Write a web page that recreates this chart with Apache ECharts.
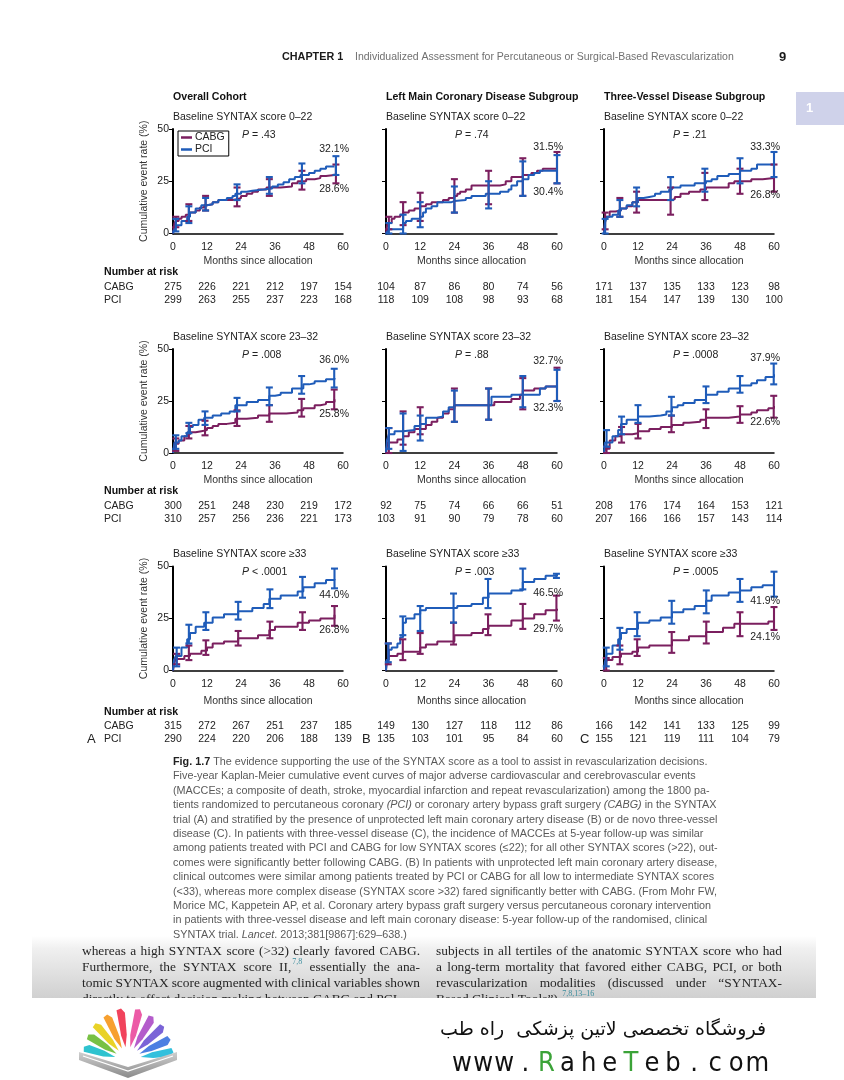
<!DOCTYPE html>
<html><head><meta charset="utf-8">
<script src="https://cdn.jsdelivr.net/npm/echarts@6/dist/echarts.min.js"></script>
<style>html,body{margin:0;padding:0;background:#fff;}#c{width:844px;height:1080px;}</style>
</head><body><div id="c"></div>
<script>
// ---------------- DATA ----------------
const months = [0, 12, 24, 36, 48, 60];
const yTicks = [0, 25, 50];
const columnTitles = ['Overall Cohort', 'Left Main Coronary Disease Subgroup', 'Three-Vessel Disease Subgroup'];
const rowSubtitles = ['Baseline SYNTAX score 0–22', 'Baseline SYNTAX score 23–32', 'Baseline SYNTAX score ≥33'];
const seriesNames = ['CABG', 'PCI'];
const pValueText = ['= .43', '= .74', '= .21', '= .008', '= .88', '= .0008', '< .0001', '= .003', '= .0005'];
const topLabels = ['32.1%', '31.5%', '33.3%', '36.0%', '32.7%', '37.9%', '44.0%', '46.5%', '41.9%'];
const bottomLabels = ['28.6%', '30.4%', '26.8%', '25.8%', '32.3%', '22.6%', '26.8%', '29.7%', '24.1%'];
const panelLetters = ['A', 'B', 'C'];

// Kaplan-Meier curves [month, cumulative event rate %]
const cabgA1 = [[0,0],[0.5,5],[1,6],[2,7],[3,8],[4.5,9],[6,10],[8,11],[9.5,12.5],[11,13.5],[12,14],[14,15],[16,16],[21,16.5],[23,17],[24,18],[26,19],[28,20],[30,21],[33,22],[38,22.5],[42,24],[44,25],[47,26],[50,26.5],[52,27.5],[54,28],[57,28.6]];
const pciA1 = [[0,0],[0.5,2],[1,4],[3,6],[5,8],[6,10],[8,12],[10,13.5],[12,14],[14,15],[16,16],[19,17],[21,18],[22,19],[24,20],[26,20.5],[28,21],[32,21.5],[35,22.5],[37,23.5],[39,24.5],[41,26],[43,27],[45,28],[48,29],[50,30],[52,31],[54,32],[57,32.1]];
const cabgErrA1 = [[1,3,8],[5.6,6,14],[11.5,11,18],[22.6,13,22],[34,18,26],[45.5,21,30],[57.5,24,33]];
const pciErrA1 = [[1,1,7],[5.6,5,13],[11.5,11,17],[22.6,16,23.5],[34,19,27],[45.5,24,33.5],[57.5,28,37]];

const cabgB1 = [[0,0],[0.5,5],[2,7],[3,8],[5,9],[6,10],[8,11],[10,12],[12,13],[14,14],[16,15],[20,16],[22,17],[24,18],[25,19],[26,20],[28,21],[30,23],[40,23.5],[42,25],[44,27],[48,28],[51,29],[53,30],[55,31],[60,31.5]];
const pciB1 = [[0,0],[0.5,1],[1,2],[6,5],[7,6],[9,7],[12,8],[13,10],[14,12],[16,13],[18,15],[23,15.5],[24,16],[28,17],[30,18],[35,19],[40,20],[43,21],[44,23],[46,25],[48,26],[50,28],[52,29],[54,30],[60,30.4]];
const cabgErrB1 = [[1,2,8],[6,4,15],[12,6,19.5],[24,10,26],[36,14,30],[48,18,36],[60,24,39]];
const pciErrB1 = [[1,0,5],[6,0,9],[12,3,15],[24,10,22.5],[36,12,25],[48,18,34.5],[60,24,37.5]];

const cabgC1 = [[0,0],[0.5,8],[2,10.5],[4,11],[6,12],[8,13],[10,15],[12,16],[24,16.5],[25,17.5],[27,19],[30,20],[34,21],[36,22],[44,24],[46,25],[52,26],[56,26.5],[60,26.8]];
const pciC1 = [[0,0],[0.3,5],[1,8],[3,9],[5,11],[6,12],[8,13.5],[10,15],[12,17],[14,17.5],[16,18],[18,19],[20,20],[23,21],[24,22],[27,23],[32,24],[36,25],[38,26],[40,27.5],[44,28.5],[48,30],[52,31],[54,33],[60,33.3]];
const cabgErrC1 = [[0.4,2,10],[5.6,8,17],[11.5,10,20],[23.5,9,22],[35.6,16,29],[48,19,31],[60,20,33]];
const pciErrC1 = [[0.4,0,7],[5.6,8,16],[11.5,13,22],[23.5,16,27],[35.6,20,31],[48,24,36],[60,27,39]];

const cabgA2 = [[0,0],[0.5,3],[1,4.5],[2,6],[4,8],[5,9],[6,10],[8,10.5],[10,11],[12,12],[14,13],[16,14],[19,14.5],[22,16.5],[26,17],[30,18],[34,19],[40,19.5],[44,20.5],[46,21.5],[50,23],[52,23.5],[54,24.5],[57,25.8]];
const pciA2 = [[0,0],[0.5,5],[2,6],[3,8],[5,10],[6,12.5],[7,13.5],[9,16],[11,17],[14,18],[17,19],[20,20],[22,23],[26,24.5],[30,25.5],[34,27.5],[36,28],[38,29],[42,31],[46,33],[48,33.5],[50,34.5],[54,35.5],[57,36]];
const cabgErrA2 = [[1,1,7],[5.6,7,13],[11.3,8.5,15.5],[22.6,13,20.5],[34,15,23],[45.4,17.5,26],[56.9,21,30.5]];
const pciErrA2 = [[1,2,8.5],[5.6,9.5,14.5],[11.3,13.5,20],[22.6,20,26.5],[34,23,31.5],[45.4,28.5,37],[56.9,31.5,40.5]];

const cabgB2 = [[0,0],[0.5,5],[4,6.5],[6,8],[8,10],[10,11.5],[14,13.5],[16,15],[18,17],[20,19],[22,21],[24,23],[36,23],[38,24.5],[44,26],[47,28],[48,30],[52,31],[56,32],[60,32.3]];
const pciB2 = [[0,0],[0.3,6],[1,9],[3,10.5],[6,11],[10,13],[12,14],[14,17],[18,17.5],[20,20],[22,22],[24,23],[37,27],[44,28],[54,31],[56,32],[60,32.7]];
const cabgErrB2 = [[1,0,12],[6,4,20],[12,9,22],[24,15,31],[36,16,31],[48,21,36],[60,25,41]];
const pciErrB2 = [[1,2,12],[6,1,19],[12,6,18],[24,15,30],[36,16,31],[48,22,37],[60,25,40]];

const cabgC2 = [[0,0],[0.5,2],[2,6],[4,8],[6,9],[10,9.5],[12,10.5],[16,11.5],[20,12.5],[24,13.5],[28,14.5],[30,15],[34,16],[36,17],[44,17.5],[48,18.5],[52,19.5],[54,20.5],[58,21.5],[60,22.6]];
const pciC2 = [[0,0],[0.3,5],[3,8],[5,11],[6,14],[8,16],[12,17.5],[16,18],[20,18.5],[22,20],[24,22],[26,23],[28,24],[32,25.5],[36,28],[40,29.5],[44,31],[48,32.5],[52,33.5],[54,35],[57,36.5],[60,37.9]];
const cabgErrC2 = [[0.9,0,3],[6.2,5,12.5],[12,7,14],[23.8,10,18],[36,12,21],[48,14.5,22.5],[59.9,17,27.5]];
const pciErrC2 = [[0.9,3,11],[6.2,9,17.5],[12,14.5,23],[23.8,18,27],[36,24,32],[48,29,37],[59.9,33,43]];

const cabgA3 = [[0,0],[0.5,4],[1,5.5],[4,7],[6,8],[10,9.5],[12,11],[14,13],[18,14],[23,15.5],[30,17],[34,19.5],[36,21],[44,23],[48,24],[52,25],[57,26.8]];
const pciA3 = [[0,0],[0.3,5],[1,7],[3,11],[5,15],[6,18],[8,21],[11,23],[14,25.5],[18,27],[23,28.5],[28,30],[32,32],[34,34.5],[38,36],[44,38],[46,40],[50,42],[54,43.5],[57,44]];
const cabgErrA3 = [[1.3,3,8],[5.6,5,12],[11.6,7.5,14.5],[23,12,19],[34.2,15.5,23.5],[45.7,19.5,28],[57,21.5,31]];
const pciErrA3 = [[1.3,2,11],[5.6,13,22],[11.6,19.5,28],[23,24.5,33],[34.2,30,39],[45.7,35,45],[57,39.5,49]];

const cabgB3 = [[0,0],[0.3,4],[1,7],[4,8],[6,9],[12,11],[14,12.5],[18,14],[24,17],[30,18],[34,20],[36,21.5],[44,24],[48,25],[52,27],[56,29],[60,29.7]];
const pciB3 = [[0,0],[0.2,5],[1,10],[2,11],[4,13],[5,16],[6,23],[7,25],[10,27],[12,29],[14,30],[25,31],[30,32],[34,35],[36,37],[44,38.5],[48,42.5],[52,44],[56,45.5],[60,46.5]];
const cabgErrB3 = [[0.8,3,13],[5.9,5,15],[12,8,18],[23.7,12.5,23],[35.8,17,27],[48,20,32],[59.8,24,36]];
const pciErrB3 = [[0.8,4,13],[5.9,17,26],[12,19,31],[23.7,23,37],[35.8,30,44],[48,39,49],[59.8,44.5,46.5]];

const cabgC3 = [[0,0],[0.3,3],[1,5],[3,6.5],[6,8],[10,9],[12,11],[16,12],[24,14.5],[30,16.5],[36,18.5],[42,20.5],[46,22.5],[58,23.6],[60,24.1]];
const pciC3 = [[0,0],[0.3,4],[1,8],[3,12],[5,15],[6,18],[8,20],[12,23],[16,24],[20,25.5],[24,28],[28,29.5],[32,31],[36,33.5],[38,36],[44,37.5],[48,38.5],[52,40],[56,41],[60,41.9]];
const cabgErrC3 = [[0.8,0,6],[5.6,3,12],[11.7,7,15],[23.9,8.5,18.5],[36.1,13,23.5],[48,16.5,28],[60,19.5,30.5]];
const pciErrC3 = [[0.8,2,11],[5.6,10,20.5],[11.7,16.5,28],[23.9,22.5,33.5],[36.1,27.5,38.5],[48,33,44],[60,35.5,47.5]];

// Number at risk
const riskCabgA1 = [275,226,221,212,197,154], riskPciA1 = [299,263,255,237,223,168];
const riskCabgB1 = [104,87,86,80,74,56],     riskPciB1 = [118,109,108,98,93,68];
const riskCabgC1 = [171,137,135,133,123,98], riskPciC1 = [181,154,147,139,130,100];
const riskCabgA2 = [300,251,248,230,219,172], riskPciA2 = [310,257,256,236,221,173];
const riskCabgB2 = [92,75,74,66,66,51],      riskPciB2 = [103,91,90,79,78,60];
const riskCabgC2 = [208,176,174,164,153,121], riskPciC2 = [207,166,166,157,143,114];
const riskCabgA3 = [315,272,267,251,237,185], riskPciA3 = [290,224,220,206,188,139];
const riskCabgB3 = [149,130,127,118,112,86], riskPciB3 = [135,103,101,95,84,60];
const riskCabgC3 = [166,142,141,133,125,99], riskPciC3 = [155,121,119,111,104,79];

const captionLines = [
  '{b|Fig. 1.7} The evidence supporting the use of the SYNTAX score as a tool to assist in revascularization decisions.',
  'Five-year Kaplan-Meier cumulative event curves of major adverse cardiovascular and cerebrovascular events',
  '(MACCEs; a composite of death, stroke, myocardial infarction and repeat revascularization) among the 1800 pa-',
  'tients randomized to percutaneous coronary {i|(PCI)} or coronary artery bypass graft surgery {i|(CABG)} in the SYNTAX',
  'trial (A) and stratified by the presence of unprotected left main coronary artery disease (B) or de novo three-vessel',
  'disease (C). In patients with three-vessel disease (C), the incidence of MACCEs at 5-year follow-up was similar',
  'among patients treated with PCI and CABG for low SYNTAX scores (≤22); for all other SYNTAX scores (>22), out-',
  'comes were significantly better following CABG. (B) In patients with unprotected left main coronary artery disease,',
  'clinical outcomes were similar among patients treated by PCI or CABG for all low to intermediate SYNTAX scores',
  '(<33), whereas more complex disease (SYNTAX score >32) fared significantly better with CABG. (From Mohr FW,',
  'Morice MC, Kappetein AP, et al. Coronary artery bypass graft surgery versus percutaneous coronary intervention',
  'in patients with three-vessel disease and left main coronary disease: 5-year follow-up of the randomised, clinical',
  'SYNTAX trial. {i|Lancet}. 2013;381[9867]:629–638.)'
];
const bodyLeft = [
  'whereas a high SYNTAX score (>32) clearly favored CABG.',
  'Furthermore, the SYNTAX score II,^7,8 essentially the ana-',
  'tomic SYNTAX score augmented with clinical variables shown',
  'directly to affect decision making between CABG and PCI'
];
const bodyRight = [
  'subjects in all tertiles of the anatomic SYNTAX score who had',
  'a long-term mortality that favored either CABG, PCI, or both',
  'revascularization modalities (discussed under “SYNTAX-',
  'Based Clinical Tools”).^7,8,13–16'
];

// ---------------- LAYOUT ----------------
const FONT = '"Liberation Sans", Arial, Helvetica, sans-serif';
const SERIF = '"Liberation Serif", "Times New Roman", serif';
const CABG_COLOR = '#7b1f5f', PCI_COLOR = '#1f5cb9';
const COL_LEFT = [173, 386, 604], COL_W = [170, 171, 170];
const ROW_TOP = [129, 349, 566.5], ROW_H = [104.5, 104, 104];
const X_NAME_GAP = [22, 22, 25];
const TOP_LABEL_Y = [149, 147, 147, 360, 361, 358, 595, 593, 601];
const BOTTOM_LABEL_Y = [189, 192, 195, 414, 408, 422, 630, 629, 637];
const RISK_ROW_Y = [[272, 287, 300], [491, 506, 519], [712, 726, 739]];

const panels = [
  {cabg: cabgA1, pci: pciA1, cabgErr: cabgErrA1, pciErr: pciErrA1, rc: riskCabgA1, rp: riskPciA1},
  {cabg: cabgB1, pci: pciB1, cabgErr: cabgErrB1, pciErr: pciErrB1, rc: riskCabgB1, rp: riskPciB1},
  {cabg: cabgC1, pci: pciC1, cabgErr: cabgErrC1, pciErr: pciErrC1, rc: riskCabgC1, rp: riskPciC1},
  {cabg: cabgA2, pci: pciA2, cabgErr: cabgErrA2, pciErr: pciErrA2, rc: riskCabgA2, rp: riskPciA2},
  {cabg: cabgB2, pci: pciB2, cabgErr: cabgErrB2, pciErr: pciErrB2, rc: riskCabgB2, rp: riskPciB2},
  {cabg: cabgC2, pci: pciC2, cabgErr: cabgErrC2, pciErr: pciErrC2, rc: riskCabgC2, rp: riskPciC2},
  {cabg: cabgA3, pci: pciA3, cabgErr: cabgErrA3, pciErr: pciErrA3, rc: riskCabgA3, rp: riskPciA3},
  {cabg: cabgB3, pci: pciB3, cabgErr: cabgErrB3, pciErr: pciErrB3, rc: riskCabgB3, rp: riskPciB3},
  {cabg: cabgC3, pci: pciC3, cabgErr: cabgErrC3, pciErr: pciErrC3, rc: riskCabgC3, rp: riskPciC3}
];

function errRender(color) {
  return function (params, api) {
    const x = api.value(0), lo = api.value(1), hi = api.value(2);
    const p1 = api.coord([x, lo]), p2 = api.coord([x, hi]);
    const w = 3.5, st = {stroke: color, lineWidth: 2.1};
    return {type: 'group', children: [
      {type: 'line', shape: {x1: p1[0], y1: p1[1], x2: p2[0], y2: p2[1]}, style: st},
      {type: 'line', shape: {x1: p1[0] - w, y1: p1[1], x2: p1[0] + w, y2: p1[1]}, style: st},
      {type: 'line', shape: {x1: p2[0] - w, y1: p2[1], x2: p2[0] + w, y2: p2[1]}, style: st}
    ]};
  };
}

const grids = [], xAxes = [], yAxes = [], series = [];
panels.forEach((p, i) => {
  const col = i % 3, row = Math.floor(i / 3);
  grids.push({left: COL_LEFT[col], top: ROW_TOP[row], width: COL_W[col], height: ROW_H[row], containLabel: false, outerBoundsMode: 'none'});
  xAxes.push({
    gridIndex: i, type: 'value', min: months[0], max: months[months.length - 1], interval: 12,
    axisLine: {show: true, onZero: false, lineStyle: {color: '#000', width: 1.5}},
    axisTick: {show: false}, splitLine: {show: false},
    axisLabel: {fontSize: 10.5, color: '#222', fontFamily: FONT, margin: 8},
    name: 'Months since allocation', nameLocation: 'middle', nameGap: X_NAME_GAP[row],
    nameTextStyle: {fontSize: 10.5, color: '#333', fontFamily: FONT}
  });
  yAxes.push({
    gridIndex: i, type: 'value', min: yTicks[0], max: yTicks[yTicks.length - 1], interval: 25,
    axisLine: {show: true, onZero: false, lineStyle: {color: '#000', width: 2}},
    axisTick: {show: true, length: 4, lineStyle: {color: '#000', width: 1}},
    splitLine: {show: false},
    axisLabel: {show: col === 0, fontSize: 10.5, color: '#222', fontFamily: FONT, margin: 4},
    name: col === 0 ? 'Cumulative event rate (%)' : '', nameLocation: 'middle', nameGap: 23,
    nameTextStyle: {fontSize: 10.5, color: '#333', fontFamily: FONT}
  });
  const lineBase = {type: 'line', step: 'end', showSymbol: false, symbol: 'none', xAxisIndex: i, yAxisIndex: i, animation: false, silent: true};
  series.push(Object.assign({}, lineBase, {name: seriesNames[0], data: p.cabg, lineStyle: {color: CABG_COLOR, width: 2}, itemStyle: {color: CABG_COLOR}, z: 3}));
  series.push(Object.assign({}, lineBase, {name: seriesNames[1], data: p.pci, lineStyle: {color: PCI_COLOR, width: 2}, itemStyle: {color: PCI_COLOR}, z: 4}));
  series.push({type: 'custom', name: seriesNames[0], xAxisIndex: i, yAxisIndex: i, data: p.cabgErr, encode: {x: 0, y: [1, 2]}, renderItem: errRender(CABG_COLOR), itemStyle: {color: CABG_COLOR}, animation: false, silent: true, clip: false, z: 5});
  series.push({type: 'custom', name: seriesNames[1], xAxisIndex: i, yAxisIndex: i, data: p.pciErr, encode: {x: 0, y: [1, 2]}, renderItem: errRender(PCI_COLOR), itemStyle: {color: PCI_COLOR}, animation: false, silent: true, clip: false, z: 6});
});

const chart = echarts.init(document.getElementById('c'), null, {renderer: 'canvas'});
chart.setOption({
  animation: false,
  backgroundColor: '#ffffff',
  textStyle: {fontFamily: FONT},
  legend: {
    data: seriesNames, orient: 'vertical', left: 178, top: 131, icon: 'rect',
    itemWidth: 11, itemHeight: 2.5, itemGap: 1, padding: [1, 4, 1, 3],
    borderColor: '#000', borderWidth: 1, selectedMode: false,
    textStyle: {fontSize: 10.5, color: '#222', fontFamily: FONT, padding: [0, 0, 0, -2]}
  },
  grid: grids, xAxis: xAxes, yAxis: yAxes, series: series
});

// ---------------- TEXT / DECORATION ----------------
function T(x, y, text, o) {
  o = o || {};
  const align = o.align || 'left', va = o.va || 'middle';
  const style = {text: text, fill: o.fill || '#222', fontSize: o.size || 10.5, fontFamily: o.family || FONT,
    fontWeight: o.weight || 'normal', fontStyle: o.style || 'normal',
    textAlign: align, align: align, textVerticalAlign: va, verticalAlign: va};
  if (o.rich) style.rich = o.rich;
  return {type: 'text', x: x, y: y, silent: true, z: o.z || 100, style: style};
}
const G = [];
// header
G.push(T(282, 57, 'CHAPTER 1', {weight: 'bold', size: 10.8, fill: '#1a1a1a'}));
G.push(T(355, 57, 'Individualized Assessment for Percutaneous or Surgical-Based Revascularization', {size: 10.5, fill: '#707070'}));
G.push(T(779, 57, '9', {weight: 'bold', size: 13, fill: '#1a1a1a'}));
G.push({type: 'rect', shape: {x: 796, y: 92, width: 48, height: 33}, style: {fill: '#cfd2ea'}, silent: true, z: 1});
G.push(T(806, 108, '1', {weight: 'bold', size: 13, fill: '#ffffff'}));

panels.forEach((p, i) => {
  const col = i % 3, row = Math.floor(i / 3);
  const L = COL_LEFT[col], R = COL_LEFT[col] + COL_W[col];
  if (row === 0) G.push(T(L, 97, columnTitles[col], {weight: 'bold', size: 10.6, fill: '#111'}));
  G.push(T(L, ROW_TOP[row] - 12, rowSubtitles[row], {size: 10.5}));
  const pr = {i: {fontStyle: 'italic', fontSize: 10.5, fontFamily: FONT, fill: '#222'}, n: {fontSize: 10.5, fontFamily: FONT, fill: '#222'}};
  G.push(T(L + 69, ROW_TOP[row] + 6, '{i|P} {n|' + pValueText[i] + '}', {rich: pr}));
  G.push(T(R + 6, TOP_LABEL_Y[i], topLabels[i], {align: 'right'}));
  G.push(T(R + 6, BOTTOM_LABEL_Y[i], bottomLabels[i], {align: 'right'}));
  const ry = RISK_ROW_Y[row];
  if (col === 0) {
    G.push(T(104, ry[0], 'Number at risk', {weight: 'bold', size: 10.6, fill: '#111'}));
    G.push(T(104, ry[1], 'CABG'));
    G.push(T(104, ry[2], 'PCI'));
  }
  months.forEach((m, k) => {
    const px = chart.convertToPixel({xAxisIndex: i}, m);
    G.push(T(px, ry[1], String(p.rc[k]), {align: 'center'}));
    G.push(T(px, ry[2], String(p.rp[k]), {align: 'center'}));
  });
});
G.push(T(87, 739, panelLetters[0], {size: 13}));
G.push(T(362, 739, panelLetters[1], {size: 13}));
G.push(T(580, 739, panelLetters[2], {size: 13}));

// caption
const CAP_SIZE = 10.8;
const capRich = {
  b: {fontWeight: 'bold', fontSize: CAP_SIZE, fontFamily: FONT, fill: '#222'},
  i: {fontStyle: 'italic', fontSize: CAP_SIZE, fontFamily: FONT, fill: '#5a5a5a'}
};
captionLines.forEach((ln, k) => {
  G.push(T(173, 762 + k * 14.4, ln, {size: CAP_SIZE, fill: '#5a5a5a', rich: capRich}));
});

// body text region with grey gradient
G.push({type: 'rect', silent: true, z: 1, shape: {x: 32, y: 936, width: 784, height: 62},
  style: {fill: new echarts.graphic.LinearGradient(0, 0, 0, 1, [
    {offset: 0, color: '#ffffff'}, {offset: 0.2, color: '#f0f0f0'}, {offset: 1, color: '#d0d0d0'}])}});
const measure = document.createElement('canvas').getContext('2d');
function bodyColumn(lines, x0, width) {
  lines.forEach((ln, k) => {
    const y = 951 + k * 16;
    const parts = ln.split(' ').map(w => {
      const idx = w.indexOf('^');
      return idx >= 0 ? {main: w.slice(0, idx), sup: w.slice(idx + 1)} : {main: w, sup: ''};
    });
    const widths = parts.map(pp => {
      measure.font = '13.4px ' + SERIF; let wdt = measure.measureText(pp.main).width;
      measure.font = '8px ' + SERIF; wdt += pp.sup ? measure.measureText(pp.sup).width + 1 : 0; return wdt;
    });
    const total = widths.reduce((a, b) => a + b, 0);
    const justify = k < 3;
    measure.font = '13.4px ' + SERIF;
    const gap = justify ? (width - total) / (parts.length - 1) : measure.measureText(' ').width;
    let cx = x0;
    parts.forEach((pp, j) => {
      G.push(T(cx, y, pp.main, {family: SERIF, size: 13.4, fill: '#262626', z: 2}));
      if (pp.sup) {
        measure.font = '13.4px ' + SERIF;
        const mw = measure.measureText(pp.main).width;
        G.push(T(cx + mw + 1, y - 5, pp.sup, {family: SERIF, size: 8, fill: '#3a8c9c', z: 2}));
      }
      cx += widths[j] + gap;
    });
  });
}
bodyColumn(bodyLeft, 82, 338);
bodyColumn(bodyRight, 436, 346);
G.push({type: 'rect', silent: true, z: 3, shape: {x: 0, y: 998, width: 844, height: 82}, style: {fill: '#ffffff'}});

// logo (stylised open book)
const LC = [128, 1060];
const leaves = [
  [101, 52, '#f1435c'], [118, 50, '#f7a02f'], [135, 49, '#e9d227'], [151, 47, '#78c144'], [167, 46, '#2fc3cf'],
  [80, 52, '#ec5aa6'], [63, 50, '#b45ccb'], [46, 49, '#7a63d7'], [29, 47, '#4c7fe2'], [13, 46, '#33c0dd']
];
leaves.forEach(lf => {
  const a = lf[0] * Math.PI / 180, r2 = lf[1];
  const ux = Math.cos(a), uy = -Math.sin(a), nx = -uy, ny = ux;
  const r1 = 13, w = 6;
  const pt = (r, off) => [LC[0] + ux * r + nx * off, LC[1] + uy * r + ny * off];
  G.push({type: 'polygon', silent: true, z: 4, shape: {points: [pt(r1, 0), pt(r1 + 12, w * 0.6), pt(r2 - 5, w), pt(r2, w * 0.5), pt(r2 - 1, -w * 0.3), pt(r1 + 12, -w * 0.35)]}, style: {fill: lf[2]}});
});
G.push({type: 'polygon', silent: true, z: 4, shape: {points: [[79, 1052], [128, 1067], [177, 1052], [177, 1060], [128, 1078], [79, 1060]]},
  style: {fill: new echarts.graphic.LinearGradient(0, 0, 0, 1, [{offset: 0, color: '#cfcfcf'}, {offset: 1, color: '#8a8a8a'}])}});
G.push({type: 'polyline', silent: true, z: 5, shape: {points: [[83, 1056], [128, 1071], [173, 1056]]}, style: {stroke: '#ffffff', lineWidth: 1.2, fill: null}});

// footer store name
G.push(T(766, 1030, 'فروشگاه تخصصی لاتین پزشکی  راه طب', {align: 'right', size: 19, family: '"DejaVu Sans", "Noto Sans", sans-serif', fill: '#111', z: 5}));
const site = 'www.RaheTeb.com';
for (let k = 0; k < site.length; k++) {
  const ch = site[k];
  const green = (k === 4 || k === 8);
  G.push(T(462 + k * 21.1, 1064, ch, {align: 'center', size: 27, family: '"DejaVu Sans Condensed", "Liberation Sans Narrow", "Roboto", sans-serif', fill: green ? '#3ba338' : '#111', z: 5}));
}

chart.setOption({graphic: {elements: G}});
</script>
</body></html>
